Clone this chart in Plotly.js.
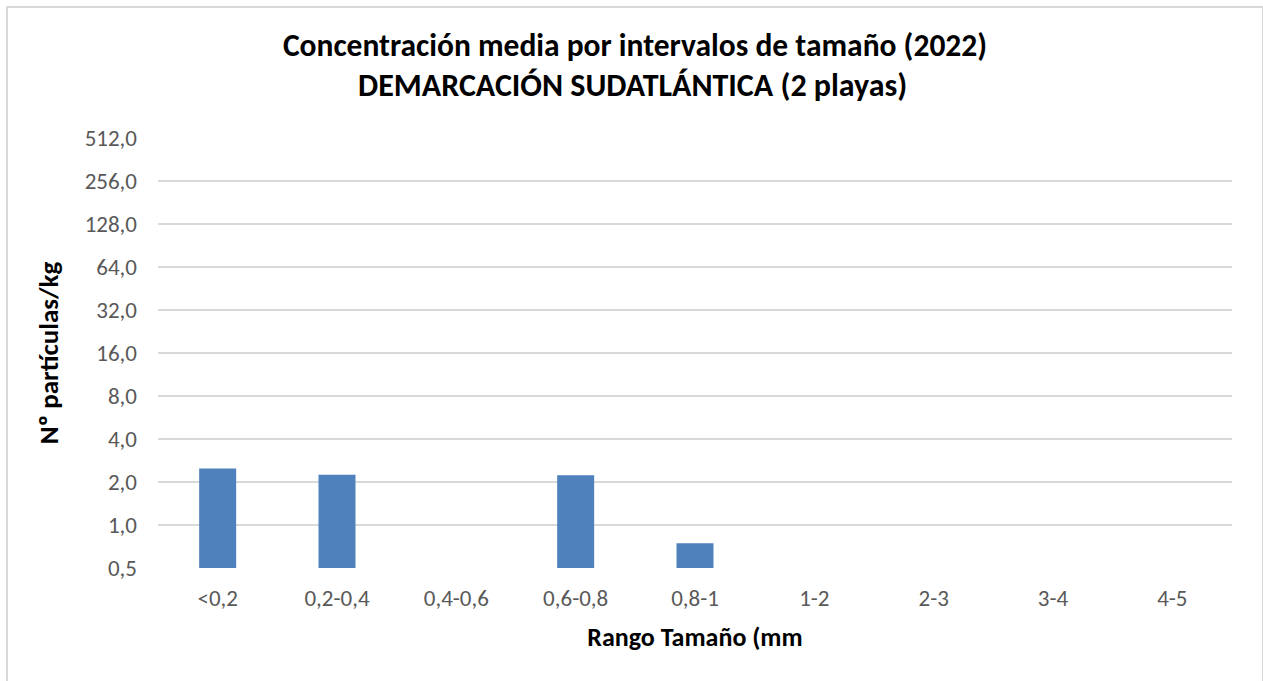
<!DOCTYPE html>
<html>
<head>
<meta charset="utf-8">
<script src="https://cdn.plot.ly/plotly-3.0.1.min.js"></script>
<style>
  html, body { margin: 0; padding: 0; background: #ffffff; }
  #chart { position: absolute; left: 6px; top: 6px; width: 1254px; height: 680px;
           border: 2px solid #d9d9d9; border-bottom: none; background: #fff; }
</style>
</head>
<body>
<div id="chart"></div>
<script>
const categories = ["<0,2", "0,2-0,4", "0,4-0,6", "0,6-0,8", "0,8-1", "1-2", "2-3", "3-4", "4-5"];
const values = [2.49, 2.25, null, 2.23, 0.744, 0, 0, 0, 0];
const tickValues = [0.5, 1, 2, 4, 8, 16, 32, 64, 128, 256, 512];
const tickLabels = ["0,5", "1,0", "2,0", "4,0", "8,0", "16,0", "32,0", "64,0", "128,0", "256,0", "512,0"];
const titleLine1 = "Concentración media por intervalos de tamaño (2022)";
const titleLine2 = "DEMARCACIÓN SUDATLÁNTICA (2 playas)";
const xTitle = "Rango Tamaño (mm";
const yTitle = "Nº partículas/kg";

const FONT = "Carlito, Calibri, Lato, sans-serif";

const trace = {
  type: "bar",
  x: categories,
  y: values,
  marker: { color: "#4f81bd", line: { width: 0 } },
  hoverinfo: "x+y"
};

const layout = {
  width: 1254,
  height: 680,
  margin: { l: 150, r: 30, t: 130, b: 120 },
  paper_bgcolor: "#ffffff",
  plot_bgcolor: "#ffffff",
  font: { family: FONT, color: "#595959", size: 23 },
  bargap: 0.69,
  showlegend: false,
  title: {
    text: "<b>" + titleLine1 + "</b>",
    font: { family: FONT, size: 31.5, color: "#000000" },
    x: 0.5, xanchor: "center",
    y: 1 - 26 / 680, yanchor: "top", yref: "container"
  },
  annotations: [{
    text: "<b>" + titleLine2 + "</b>",
    xref: "paper", yref: "paper",
    x: 0.442, xanchor: "center",
    y: 1.123, yanchor: "middle",
    showarrow: false,
    font: { family: FONT, size: 32, color: "#000000" }
  }],
  xaxis: {
    type: "category",
    showgrid: false,
    showline: false,
    ticks: "",
    ticklabelstandoff: 14,
    tickfont: { family: FONT, size: 23, color: "#595959" },
    title: { text: "<b>" + xTitle + "</b>", font: { family: FONT, size: 26, color: "#000000" }, standoff: 16 },
    automargin: false
  },
  yaxis: {
    type: "log",
    range: [Math.log10(0.5), Math.log10(512)],
    tickvals: tickValues,
    ticktext: tickLabels,
    showgrid: true,
    gridcolor: "#d9d9d9",
    gridwidth: 1.5,
    zeroline: false,
    showline: false,
    ticks: "",
    ticklabelstandoff: 20,
    tickfont: { family: FONT, size: 23, color: "#595959" },
    title: { text: "<b>" + yTitle + "</b>", font: { family: FONT, size: 27, color: "#000000" }, standoff: 18 },
    automargin: false
  }
};

Plotly.newPlot("chart", [trace], layout, { displayModeBar: false, staticPlot: true });
</script>
</body>
</html>
